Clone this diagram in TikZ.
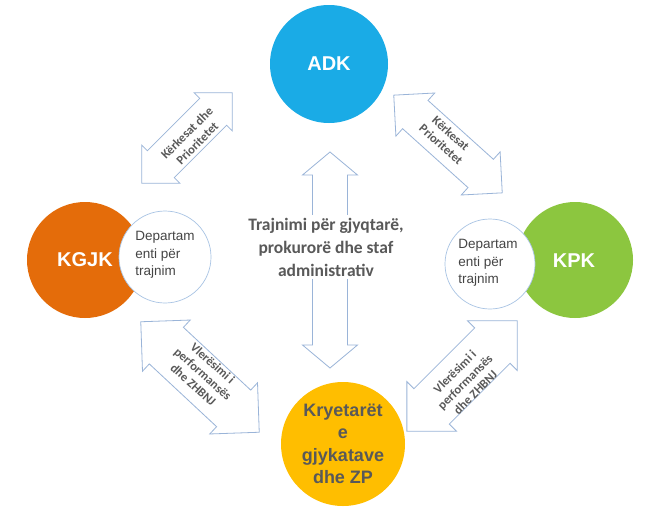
\documentclass[tikz,border=0pt]{standalone}
\usepackage{fontspec}
\setmainfont{Liberation Sans}
\newfontfamily\carl{Carlito}
\definecolor{adkblue}{HTML}{1AABE6}
\definecolor{kgjkorange}{HTML}{E46C0A}
\definecolor{kpkgreen}{HTML}{8CC63F}
\definecolor{zpyellow}{HTML}{FFBE00}
\definecolor{arrowblue}{HTML}{9AB4D8}
\definecolor{deptblue}{HTML}{A9C4E4}
\definecolor{txtgray}{HTML}{595959}
\definecolor{depttxt}{HTML}{454545}
\newcommand\dblarr[8]{%
  \begin{scope}[shift={(#1,#2)},rotate=#3]
    \path[arrowline] ({-#4/2},0) -- ({-#4/2+#7},{#5/2}) -- ({-#4/2+#7},{#6/2})
      -- ({#4/2-#7},{#6/2}) -- ({#4/2-#7},{#5/2}) -- ({#4/2},0)
      -- ({#4/2-#7},{-#5/2}) -- ({#4/2-#7},{-#6/2}) -- ({-#4/2+#7},{-#6/2})
      -- ({-#4/2+#7},{-#5/2}) -- cycle;
    \coordinate (#8) at (0,0);
  \end{scope}}
\begin{document}
\begin{tikzpicture}[x=1pt,y=-1pt,
  arrowline/.style={draw=arrowblue,line width=0.8pt,fill=white,line join=miter},
  bigc/.style={circle,inner sep=0pt,text=white,font=\bfseries\fontsize{20}{22}\selectfont},
  deptc/.style={circle,draw=deptblue,fill=white,line width=0.7pt,inner sep=0pt},
  deptlbl/.style={align=left,text=depttxt,font=\fontsize{13.5}{17.5}\selectfont,inner sep=0pt},
  arrlbl/.style={align=center,text=txtgray,font=\carl\bfseries\fontsize{12.5}{14.5}\selectfont,inner sep=0pt},
  centlbl/.style={align=center,text=txtgray,fill=white,font=\carl\bfseries\fontsize{17.5}{23}\selectfont,inner sep=3pt}]
\useasboundingbox[fill=white] (0,0) rectangle (645,530);

% block arrows
\dblarr{187}{138}{45}{128}{54}{38}{27}{atl}
\dblarr{448}{144}{-42}{146}{58}{38}{29}{atr}
\dblarr{200}{377}{-43}{162}{70}{50}{35}{abl}
\dblarr{462}{376}{45}{156}{70}{50}{35}{abr}
\dblarr{330}{260}{90}{216}{55}{35}{23}{avert}

\node[arrlbl,rotate=45] (ltl) at (192,138) {Kërkesat dhe\\Prioritetet};
\node[arrlbl,rotate=-42] (ltr) at (446,139) {Kërkesat\\Prioritetet};
\node[arrlbl,rotate=-42] (lbl) at (203,374) {Vlerësimi i\\performansës\\dhe ZHBNJ};
\node[arrlbl,rotate=45] (lbr) at (465,382) {Vlerësimi i\\performansës\\dhe ZHBNJ};

\node[centlbl] (center) at (326,247) {Trajnimi për gjyqtarë,\\prokurorë dhe staf\\administrativ};

% circles
\node[bigc,fill=adkblue,minimum size=118pt] (adk) at (329,64) {ADK};
\node[bigc,fill=kgjkorange,minimum size=116pt] (kgjk) at (85,260) {};
\node[deptc,minimum size=92pt] (dkgjk) at (165,257) {};
\node[bigc] (kgjklbl) at (85,260) {KGJK};
\node[deptlbl] (dkgjklbl) at (165,255) {Departam\\enti për\\trajnim};

\node[bigc,fill=kpkgreen,minimum size=116pt] (kpk) at (575,260) {};
\node[deptc,minimum size=90pt] (dkpk) at (490,264) {};
\node[bigc] (kpklbl) at (574,261) {KPK};
\node[deptlbl] (dkpklbl) at (488,263) {Departam\\enti për\\trajnim};

\node[circle,inner sep=0pt,fill=zpyellow,minimum size=124pt,align=center,text=txtgray,
  font=\bfseries\fontsize{18}{22.5}\selectfont] (zp) at (343,444) {Kryetarët\\e\\gjykatave\\dhe ZP};
\end{tikzpicture}
\end{document}
